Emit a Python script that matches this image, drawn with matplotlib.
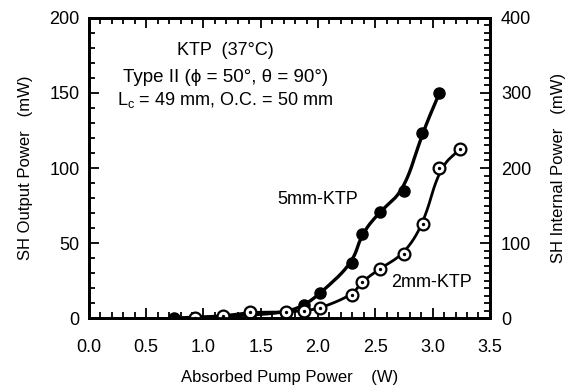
import numpy as np
import matplotlib.pyplot as plt
from matplotlib.ticker import MultipleLocator

plt.rcParams['font.family'] = ['Liberation Sans', 'DejaVu Sans']

# data
x_5mm = [0.74, 1.41, 1.72, 1.88, 2.02, 2.30, 2.38, 2.54, 2.75, 2.91, 3.06]
p_5mm = [0.0, 2.0, 4.0, 8.5, 16.5, 36.5, 56.0, 71.0, 85.0, 123.0, 150.0]

x_2mm = [0.93, 1.17, 1.41, 1.72, 1.88, 2.02, 2.30, 2.38, 2.54, 2.75, 2.92, 3.06, 3.24]
p_2mm = [0.0, 1.5, 4.0, 4.0, 5.0, 6.5, 15.5, 24.0, 33.0, 42.7, 62.7, 100.0, 112.7]


def smooth(x, y, sx=114.6, sy=1.5, it=5):
    # chaikin corner cutting (in pixel-like units) to draw a smooth line
    P = np.column_stack([np.asarray(x) * sx, np.asarray(y) * sy])
    for _ in range(it):
        q = 0.75 * P[:-1] + 0.25 * P[1:]
        r = 0.25 * P[:-1] + 0.75 * P[1:]
        mid = np.empty((2 * len(q), 2))
        mid[0::2] = q
        mid[1::2] = r
        P = np.vstack([P[0], mid, P[-1]])
    return P[:, 0] / sx, P[:, 1] / sy


fig = plt.figure(figsize=(5.77, 3.88), dpi=100)
ax = fig.add_axes([0.154, 0.180, 0.695, 0.774])

xs, ys = smooth(x_5mm, p_5mm)
ax.plot(xs, ys, color='black', lw=2.4, zorder=3)
xs, ys = smooth(x_2mm, p_2mm)
ax.plot(xs, ys, color='black', lw=2.0, zorder=3)

ax.plot(x_5mm, p_5mm, 'o', ms=8, color='black', zorder=4)
ax.plot(x_2mm, p_2mm, 'o', ms=8.5, mfc='white', mec='black', mew=1.6, zorder=5)
ax.plot(x_2mm, p_2mm, 'o', ms=1.4, color='black', zorder=6)

ax.set_xlim(0, 3.5)
ax.set_ylim(0, 200)
ax.xaxis.set_major_locator(MultipleLocator(0.5))
ax.xaxis.set_minor_locator(MultipleLocator(0.1))
ax.yaxis.set_major_locator(MultipleLocator(50))
ax.yaxis.set_minor_locator(MultipleLocator(10))
ax.xaxis.set_major_formatter(plt.FormatStrFormatter('%.1f'))
ax.tick_params(which='both', direction='in', top=True, right=False,
               width=1.3, labelsize=13)
ax.tick_params(which='major', length=7)
ax.tick_params(which='minor', length=4)
ax.tick_params(axis='x', pad=15)
ax.tick_params(axis='y', pad=6.5)
for s in ax.spines.values():
    s.set_linewidth(2)

ax2 = ax.twinx()
ax2.set_ylim(0, 400)
ax2.yaxis.set_major_locator(MultipleLocator(100))
ax2.yaxis.set_minor_locator(MultipleLocator(10))
ax2.tick_params(which='both', direction='in', width=1.3, labelsize=13, pad=8)
ax2.tick_params(which='major', length=7)
ax2.tick_params(which='minor', length=4)
for s in ax2.spines.values():
    s.set_linewidth(2)

ax.set_xlabel('Absorbed Pump Power    (W)', fontsize=12, labelpad=10)
ax.set_ylabel('SH Output Power   (mW)', fontsize=12, labelpad=12)
ax2.set_ylabel('SH Internal Power   (mW)', fontsize=12, labelpad=14)

ax.text(1.19, 178, 'KTP  (37°C)', ha='center', va='center', fontsize=13)
ax.text(1.19, 160, 'Type II (ϕ = 50°, θ = 90°)', ha='center', va='center', fontsize=13.5)
ax.text(1.19, 145, r'L$_\mathregular{c}$ = 49 mm, O.C. = 50 mm', ha='center', va='center', fontsize=13)
ax.text(2.0, 79, '5mm-KTP', ha='center', va='center', fontsize=13)
ax.text(2.99, 24, '2mm-KTP', ha='center', va='center', fontsize=13)

fig.savefig('out.png', dpi=100)
